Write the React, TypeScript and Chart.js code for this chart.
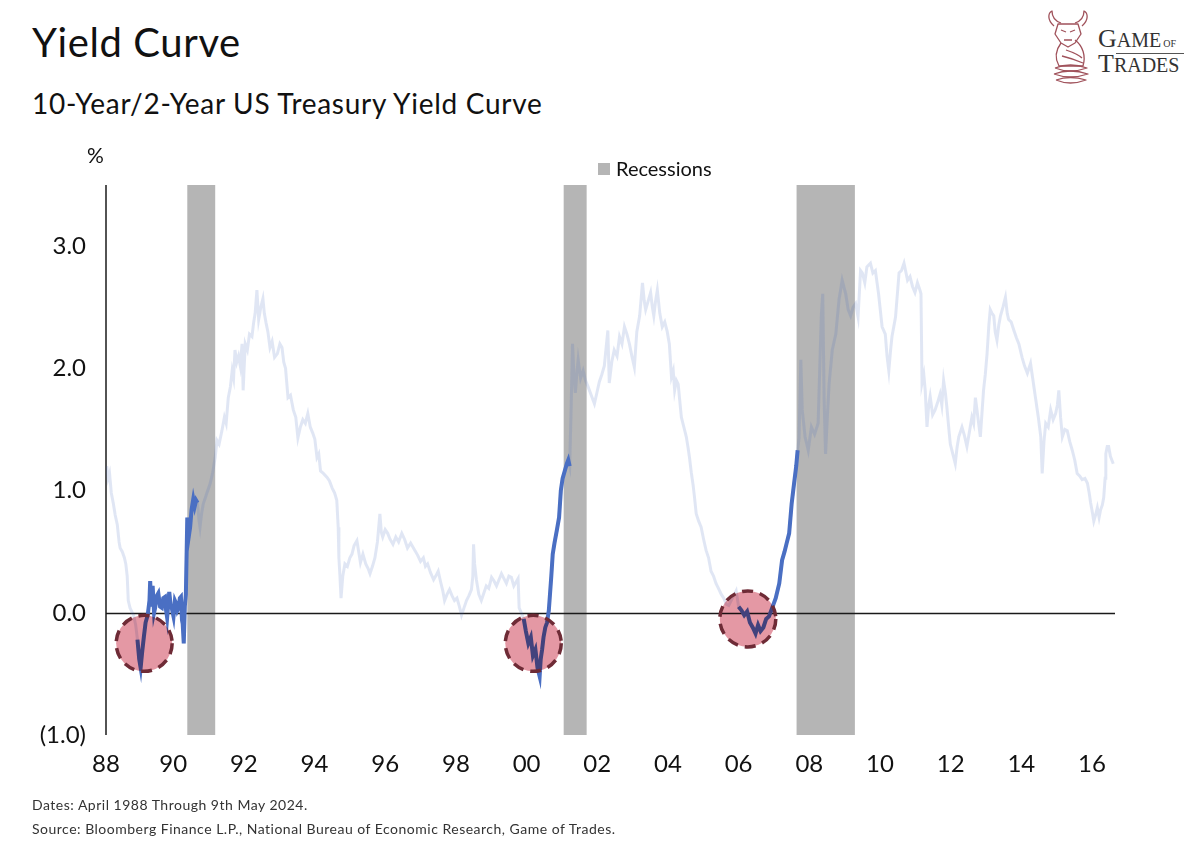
import React, { useEffect, useRef } from "react";
import { Chart, registerables } from "chart.js";

Chart.register(...registerables);

// ---- Data (10Y-2Y spread, %, decimal years) ----
const years: number[] = [
  1988.12, 1988.16, 1988.2, 1988.25, 1988.31, 1988.36, 1988.42, 1988.47, 1988.5, 1988.56, 1988.62, 1988.66, 1988.7, 1988.73, 1988.78, 1988.83,
  1988.88, 1988.94, 1988.99, 1989.04, 1989.08, 1989.12, 1989.17, 1989.22, 1989.28, 1989.33, 1989.35, 1989.38, 1989.42, 1989.46, 1989.49, 1989.54,
  1989.58, 1989.63, 1989.68, 1989.72, 1989.77, 1989.8, 1989.83, 1989.87, 1989.89, 1989.93, 1989.96, 1990.01, 1990.05, 1990.08, 1990.12, 1990.15,
  1990.19, 1990.22, 1990.25, 1990.27, 1990.3, 1990.33, 1990.36, 1990.4, 1990.44, 1990.48, 1990.52, 1990.57, 1990.61, 1990.65, 1990.69, 1990.73,
  1990.76, 1990.8, 1990.85, 1990.92, 1990.98, 1991.05, 1991.12, 1991.19, 1991.24, 1991.3, 1991.38, 1991.45, 1991.5, 1991.56, 1991.62, 1991.67,
  1991.71, 1991.75, 1991.8, 1991.85, 1991.9, 1991.95, 1991.98, 1992.04, 1992.1, 1992.16, 1992.23, 1992.28, 1992.32, 1992.37, 1992.42, 1992.48,
  1992.54, 1992.58, 1992.63, 1992.68, 1992.74, 1992.8, 1992.87, 1992.95, 1993.02, 1993.08, 1993.13, 1993.18, 1993.25, 1993.32, 1993.4, 1993.47,
  1993.53, 1993.6, 1993.67, 1993.74, 1993.81, 1993.88, 1993.95, 1994.01, 1994.07, 1994.12, 1994.17, 1994.25, 1994.35, 1994.42, 1994.5, 1994.57,
  1994.63, 1994.67, 1994.69, 1994.72, 1994.75, 1994.8, 1994.86, 1994.93, 1995.0, 1995.06, 1995.12, 1995.2, 1995.25, 1995.3, 1995.37, 1995.45,
  1995.52, 1995.57, 1995.64, 1995.71, 1995.78, 1995.85, 1995.89, 1995.93, 1996.0, 1996.07, 1996.14, 1996.22, 1996.3, 1996.38, 1996.47, 1996.55,
  1996.63, 1996.72, 1996.84, 1996.92, 1997.0, 1997.08, 1997.14, 1997.2, 1997.28, 1997.37, 1997.43, 1997.5, 1997.57, 1997.63, 1997.68, 1997.75,
  1997.82, 1997.89, 1997.96, 1998.03, 1998.1, 1998.16, 1998.23, 1998.3, 1998.37, 1998.44, 1998.48, 1998.5, 1998.53, 1998.58, 1998.65, 1998.72,
  1998.79, 1998.86, 1998.93, 1999.01, 1999.08, 1999.15, 1999.22, 1999.29, 1999.36, 1999.43, 1999.5, 1999.57, 1999.64, 1999.72, 1999.76, 1999.79,
  1999.85, 1999.92, 1999.98, 2000.05, 2000.12, 2000.18, 2000.25, 2000.31, 2000.37, 2000.4, 2000.44, 2000.48, 2000.53, 2000.58, 2000.63, 2000.7,
  2000.74, 2000.79, 2000.86, 2000.92, 2000.97, 2001.02, 2001.08, 2001.14, 2001.18, 2001.22, 2001.26, 2001.3, 2001.34, 2001.38, 2001.42, 2001.46,
  2001.53, 2001.6, 2001.67, 2001.74, 2001.83, 2001.92, 2001.99, 2002.06, 2002.13, 2002.2, 2002.3, 2002.34, 2002.41, 2002.48, 2002.56, 2002.63,
  2002.7, 2002.77, 2002.84, 2002.91, 2002.98, 2003.05, 2003.12, 2003.2, 2003.28, 2003.33, 2003.37, 2003.44, 2003.51, 2003.56, 2003.6, 2003.65,
  2003.7, 2003.77, 2003.84, 2003.91, 2003.98, 2004.04, 2004.1, 2004.15, 2004.19, 2004.24, 2004.29, 2004.34, 2004.38, 2004.45, 2004.52, 2004.57,
  2004.61, 2004.66, 2004.71, 2004.75, 2004.8, 2004.87, 2004.94, 2005.01, 2005.08, 2005.15, 2005.22, 2005.29, 2005.36, 2005.43, 2005.51, 2005.58,
  2005.65, 2005.72, 2005.79, 2005.86, 2005.93, 2006.0, 2006.08, 2006.16, 2006.24, 2006.32, 2006.4, 2006.48, 2006.55, 2006.62, 2006.7, 2006.78,
  2006.86, 2006.95, 2007.05, 2007.15, 2007.23, 2007.3, 2007.36, 2007.43, 2007.5, 2007.57, 2007.63, 2007.67, 2007.71, 2007.76, 2007.8, 2007.88,
  2007.97, 2008.06, 2008.15, 2008.25, 2008.34, 2008.38, 2008.42, 2008.46, 2008.51, 2008.56, 2008.65, 2008.75, 2008.84, 2008.93, 2009.03, 2009.1,
  2009.17, 2009.24, 2009.31, 2009.38, 2009.45, 2009.5, 2009.57, 2009.63, 2009.73, 2009.8, 2009.87, 2009.96, 2010.06, 2010.15, 2010.2, 2010.25,
  2010.3, 2010.34, 2010.44, 2010.49, 2010.54, 2010.61, 2010.68, 2010.78, 2010.85, 2010.92, 2010.99, 2011.06, 2011.12, 2011.16, 2011.19, 2011.24,
  2011.28, 2011.33, 2011.38, 2011.42, 2011.49, 2011.56, 2011.63, 2011.7, 2011.75, 2011.8, 2011.85, 2011.89, 2011.95, 2011.99, 2012.06, 2012.13,
  2012.18, 2012.23, 2012.32, 2012.39, 2012.46, 2012.53, 2012.6, 2012.65, 2012.7, 2012.77, 2012.84, 2012.93, 2012.98, 2013.03, 2013.08, 2013.12,
  2013.17, 2013.22, 2013.26, 2013.31, 2013.36, 2013.41, 2013.48, 2013.55, 2013.6, 2013.64, 2013.71, 2013.79, 2013.86, 2013.93, 2014.02, 2014.09,
  2014.17, 2014.26, 2014.33, 2014.4, 2014.48, 2014.55, 2014.59, 2014.64, 2014.69, 2014.76, 2014.83, 2014.9, 2014.97, 2015.02, 2015.06, 2015.11,
  2015.16, 2015.23, 2015.3, 2015.37, 2015.44, 2015.51, 2015.58, 2015.65, 2015.72, 2015.8, 2015.87, 2015.92, 2015.96, 2016.01, 2016.05, 2016.1,
  2016.15, 2016.2, 2016.24, 2016.29, 2016.33, 2016.37, 2016.39, 2016.43, 2016.47, 2016.52, 2016.56, 2016.6,
];

const spread: number[] = [
  1.2, 1.1, 1.14, 0.98, 0.89, 0.8, 0.72, 0.58, 0.53, 0.5, 0.45, 0.4, 0.3, 0.1, 0.04, 0.01,
  -0.02, -0.1, -0.22, -0.38, -0.45, -0.33, -0.2, -0.08, -0.02, 0.1, 0.26, 0.05, 0.22, 0.0, 0.04, 0.14,
  0.16, 0.05, 0.04, 0.12, 0.13, 0.02, -0.04, 0.1, 0.17, 0.06, 0.04, -0.03, 0.1, 0.08, 0.02, 0.04,
  0.12, 0.13, -0.06, -0.09, -0.25, 0.05, 0.15, 0.78, 0.62, 0.7, 0.84, 0.93, 0.87, 0.92, 0.9, 0.76,
  0.7, 0.8, 0.89, 0.95, 1.0, 1.06, 1.15, 1.27, 1.41, 1.38, 1.49, 1.6, 1.55, 1.76, 1.85, 1.98,
  1.92, 2.15, 2.05, 2.1, 2.02, 2.2, 1.82, 2.2, 2.15, 2.28, 2.26, 2.38, 2.45, 2.64, 2.4, 2.5,
  2.57, 2.45, 2.37, 2.3, 2.17, 2.22, 2.09, 2.12, 2.2, 2.17, 2.05, 2.0, 1.76, 1.78, 1.66, 1.6,
  1.43, 1.52, 1.58, 1.55, 1.63, 1.52, 1.47, 1.42, 1.27, 1.3, 1.16, 1.14, 1.11, 1.08, 1.02, 0.98,
  0.92, 0.7, 0.45, 0.3, 0.12, 0.3, 0.4, 0.38, 0.45, 0.48, 0.55, 0.59, 0.5, 0.41, 0.48, 0.4,
  0.36, 0.32, 0.38, 0.45, 0.58, 0.81, 0.66, 0.62, 0.68, 0.65, 0.6, 0.56, 0.62, 0.58, 0.65, 0.6,
  0.53, 0.57, 0.51, 0.47, 0.42, 0.45, 0.38, 0.4, 0.33, 0.27, 0.3, 0.34, 0.25, 0.18, 0.1, 0.15,
  0.19, 0.14, 0.1, 0.12, 0.05, -0.02, 0.04, 0.1, 0.14, 0.19, 0.3, 0.56, 0.4, 0.27, 0.15, 0.1,
  0.16, 0.22, 0.2, 0.29, 0.26, 0.22, 0.27, 0.32, 0.28, 0.24, 0.3, 0.29, 0.22, 0.26, 0.28, 0.04,
  0.0, -0.05, -0.15, -0.25, -0.2, -0.35, -0.3, -0.45, -0.52, -0.38, -0.3, -0.2, -0.12, -0.08, 0.02, 0.3,
  0.48, 0.57, 0.68, 0.78, 1.0, 1.1, 1.16, 1.22, 1.25, 1.2, 1.66, 2.2, 1.95, 1.8, 1.95, 2.07,
  1.92, 1.98, 1.9, 1.85, 1.78, 1.71, 1.8, 1.89, 1.95, 2.02, 2.31, 1.88, 2.05, 2.15, 2.1, 2.26,
  2.2, 2.34, 2.28, 2.2, 2.1, 2.01, 2.3, 2.43, 2.7, 2.55, 2.48, 2.55, 2.62, 2.5, 2.43, 2.55,
  2.64, 2.45, 2.34, 2.38, 2.3, 2.2, 1.93, 1.98, 1.82, 1.9, 1.87, 1.72, 1.6, 1.52, 1.44, 1.35,
  1.27, 1.15, 1.05, 0.95, 0.81, 0.75, 0.7, 0.6, 0.51, 0.45, 0.34, 0.3, 0.24, 0.2, 0.15, 0.12,
  0.07, 0.06, 0.1, 0.14, 0.18, 0.05, 0.02, -0.02, 0.01, -0.08, -0.12, -0.17, -0.1, -0.15, -0.12, -0.05,
  -0.03, 0.04, 0.12, 0.24, 0.43, 0.5, 0.57, 0.65, 0.89, 1.06, 1.2, 1.33, 1.43, 2.07, 1.66, 1.44,
  1.33, 1.52, 1.46, 1.55, 2.43, 2.61, 1.74, 1.3, 1.6, 1.87, 2.15, 2.28, 2.56, 2.72, 2.61, 2.48,
  2.43, 2.5, 2.53, 2.42, 2.8, 2.78, 2.7, 2.83, 2.86, 2.78, 2.8, 2.61, 2.34, 2.28, 2.1, 1.98,
  2.15, 2.26, 2.42, 2.6, 2.78, 2.8, 2.86, 2.72, 2.75, 2.67, 2.62, 2.7, 2.65, 2.61, 1.88, 1.95,
  1.82, 1.52, 1.7, 1.77, 1.62, 1.66, 1.72, 1.79, 1.7, 1.9, 1.8, 1.69, 1.5, 1.38, 1.3, 1.22,
  1.35, 1.44, 1.52, 1.45, 1.36, 1.48, 1.6, 1.55, 1.76, 1.6, 1.44, 1.82, 1.95, 2.12, 2.35, 2.48,
  2.45, 2.43, 2.3, 2.23, 2.35, 2.43, 2.5, 2.58, 2.45, 2.4, 2.38, 2.31, 2.25, 2.2, 2.09, 2.02,
  1.96, 2.04, 1.9, 1.76, 1.6, 1.44, 1.14, 1.4, 1.55, 1.52, 1.66, 1.58, 1.63, 1.7, 1.82, 1.6,
  1.44, 1.5, 1.49, 1.4, 1.33, 1.25, 1.14, 1.12, 1.09, 1.1, 1.06, 0.98, 0.9, 0.82, 0.75, 0.8,
  0.86, 0.78, 0.84, 0.88, 0.94, 1.1, 1.3, 1.36, 1.36, 1.28, 1.25, 1.22,
];

// Highlighted (pre-recession inversion) periods
const highlightStart: number[] = [1988.97, 1999.9, 2005.98];
const highlightEnd: number[] = [1990.71, 2001.23, 2007.68];

// NBER recessions (shaded)
const recessionStart: number[] = [1990.4, 2001.05, 2007.64];
const recessionEnd: number[] = [1991.19, 2001.7, 2009.29];

// Inversion markers (circles)
const circleYears: number[] = [1989.18, 2000.19, 2006.26];
const circleValues: number[] = [-0.25, -0.25, -0.05];

// Axis ticks
const xTicks: number[] = [1988.1, 1990, 1992, 1994, 1996, 1998, 2000, 2002, 2004, 2006, 2008, 2010, 2012, 2014, 2016];
const xTickLabels: string[] = ["88", "90", "92", "94", "96", "98", "00", "02", "04", "06", "08", "10", "12", "14", "16"];
const yTicks: number[] = [-1, 0, 1, 2, 3];
const yTickLabels: string[] = ["(1.0)", "0.0", "1.0", "2.0", "3.0"];

const FONT = "Lato, 'Open Sans', sans-serif";

const overlayPlugin = {
  id: "overlay",
  beforeDatasetsDraw(chart: any) {
    const { ctx, chartArea, scales } = chart;
    const x = scales.x;
    const y = scales.y;
    ctx.save();
    ctx.fillStyle = "#b5b5b5";
    recessionStart.forEach((s, i) => {
      const x0 = x.getPixelForValue(s);
      const x1 = x.getPixelForValue(recessionEnd[i]);
      ctx.fillRect(x0, chartArea.top, x1 - x0, chartArea.bottom - chartArea.top);
    });
    ctx.strokeStyle = "#1a1a1a";
    ctx.lineWidth = 1.5;
    const y0 = Math.round(y.getPixelForValue(0)) + 0.5;
    ctx.beginPath();
    ctx.moveTo(chartArea.left, y0);
    ctx.lineTo(chartArea.right, y0);
    ctx.stroke();
    ctx.beginPath();
    ctx.moveTo(chartArea.left, chartArea.top);
    ctx.lineTo(chartArea.left, chartArea.bottom);
    ctx.stroke();
    ctx.restore();
  },
  afterDatasetsDraw(chart: any) {
    const { ctx, scales } = chart;
    const x = scales.x;
    const y = scales.y;
    ctx.save();
    circleYears.forEach((cy, i) => {
      const px = x.getPixelForValue(cy);
      const py = y.getPixelForValue(circleValues[i]);
      ctx.globalCompositeOperation = "multiply";
      ctx.fillStyle = "rgb(228,152,164)";
      ctx.beginPath();
      ctx.arc(px, py, 28, 0, Math.PI * 2);
      ctx.fill();
      ctx.globalCompositeOperation = "source-over";
      ctx.strokeStyle = "#6e2b36";
      ctx.lineWidth = 3.5;
      ctx.setLineDash([11, 7]);
      ctx.beginPath();
      ctx.arc(px, py, 28, 0, Math.PI * 2);
      ctx.stroke();
      ctx.setLineDash([]);
    });
    ctx.restore();
  },
};

function inHighlight(t: number): boolean {
  return highlightStart.some((s, i) => t >= s && t <= highlightEnd[i]);
}

function YieldChart() {
  const ref = useRef<HTMLCanvasElement | null>(null);
  useEffect(() => {
    if (!ref.current) return;
    const fullData = years.map((t, i) => ({ x: t, y: spread[i] }));
    const hiData = years.map((t, i) => ({ x: t, y: inHighlight(t) ? spread[i] : null }));
    const chart = new Chart(ref.current, {
      type: "line",
      data: {
        datasets: [
          {
            data: hiData as any,
            borderColor: "#4a6fc3",
            borderWidth: 4,
            pointRadius: 0,
            spanGaps: false,
            order: 1,
          },
          {
            data: fullData,
            borderColor: "rgba(70,105,190,0.17)",
            borderWidth: 3,
            pointRadius: 0,
            order: 2,
          },
        ],
      },
      options: {
        responsive: false,
        animation: false,
        layout: { padding: { left: 26, right: 85, top: 55, bottom: 20 } },
        plugins: { legend: { display: false }, tooltip: { enabled: false } },
        scales: {
          x: {
            type: "linear",
            min: 1988.1,
            max: 2016.65,
            grid: { display: false, drawTicks: false },
            border: { display: false },
            afterBuildTicks: (s: any) => {
              s.ticks = xTicks.map((v) => ({ value: v }));
            },
            afterFit: (s: any) => {
              s.height = 45;
            },
            ticks: {
              autoSkip: false,
              maxRotation: 0,
              padding: 15,
              color: "#111",
              font: { family: FONT, size: 24 },
              callback: (_v: any, i: number) => xTickLabels[i],
            },
          },
          y: {
            min: -1,
            max: 3.5,
            grid: { display: false, drawTicks: false },
            border: { display: false },
            afterBuildTicks: (s: any) => {
              s.ticks = yTicks.map((v) => ({ value: v }));
            },
            afterFit: (s: any) => {
              s.width = 80;
            },
            ticks: {
              padding: 20,
              color: "#111",
              font: { family: FONT, size: 24 },
              callback: (_v: any, i: number) => yTickLabels[i],
            },
          },
        },
      },
      plugins: [overlayPlugin],
    });
    return () => chart.destroy();
  }, []);
  return <canvas ref={ref} width={1200} height={670} style={{ width: 1200, height: 670, display: "block" }} />;
}

function Logo() {
  return (
    <div style={{ position: "absolute", left: 1040, top: 8, width: 160, height: 80 }}>
      <svg width={56} height={78} viewBox="0 0 56 78" style={{ position: "absolute", left: 2, top: 2 }}>
        <g fill="none" stroke="#a0525b" strokeWidth={1.3} strokeLinejoin="round">
          <path d="M12 16 C5 10 6 3 10 1 C10 7 13 11 19 13" />
          <path d="M40 16 C47 10 46 3 42 1 C42 7 39 11 33 13" />
          <path d="M16 14 L36 14 L39 24 L33 33 L26 37 L19 33 L13 24 Z" />
          <path d="M19 20 L24 22 M33 20 L28 22 M22 30 L30 30" />
          <path d="M19 33 C13 41 13 49 17 56 L41 56 C44 46 41 36 33 30" />
          <path d="M24 40 C30 42 36 44 40 48 M20 46 C28 48 34 50 41 53" />
          <path d="M13 58 Q28 52 45 58 Q28 64 13 58" />
          <path d="M12 64 Q28 58 46 64 Q28 70 12 64" />
          <path d="M14 70 Q28 65 44 70 Q28 76 14 70" />
        </g>
      </svg>
      <div style={{ position: "absolute", left: 58, top: 18, fontFamily: "'Liberation Serif', serif", color: "#333", whiteSpace: "nowrap", lineHeight: 1 }}>
        <span style={{ fontSize: 26 }}>G</span>
        <span style={{ fontSize: 20 }}>AME</span>
        <span style={{ fontSize: 10, marginLeft: 2 }}>OF</span>
      </div>
      <div style={{ position: "absolute", left: 58, top: 43, fontFamily: "'Liberation Serif', serif", color: "#333", whiteSpace: "nowrap", lineHeight: 1 }}>
        <span style={{ fontSize: 26 }}>T</span>
        <span style={{ fontSize: 20 }}>RADES</span>
      </div>
      <div style={{ position: "absolute", left: 76, top: 45, width: 68, height: 1, background: "#555" }} />
    </div>
  );
}

export default function App() {
  return (
    <div
      style={{
        position: "absolute",
        left: 0,
        top: 0,
        width: 1200,
        height: 854,
        background: "#fff",
        fontFamily: FONT,
        color: "#111",
        overflow: "hidden",
      }}
    >
      <div style={{ position: "absolute", left: 32, top: 22, fontSize: 40, lineHeight: 1, letterSpacing: 0.6, whiteSpace: "nowrap" }}>Yield Curve</div>
      <div style={{ position: "absolute", left: 32, top: 89, fontSize: 28, lineHeight: 1, letterSpacing: 0.7, whiteSpace: "nowrap" }}>
        10-Year/2-Year US Treasury Yield Curve
      </div>
      <Logo />
      <div style={{ position: "absolute", left: 0, top: 130 }}>
        <YieldChart />
      </div>
      <div style={{ position: "absolute", left: 87, top: 144, fontSize: 21, lineHeight: 1 }}>%</div>
      <div style={{ position: "absolute", left: 598, top: 163, width: 12, height: 12, background: "#b5b5b5" }} />
      <div style={{ position: "absolute", left: 616, top: 158, fontSize: 20, lineHeight: 1, whiteSpace: "nowrap" }}>Recessions</div>
      <div style={{ position: "absolute", left: 32, top: 798, fontSize: 14, lineHeight: 1, letterSpacing: 0.5, color: "#333", whiteSpace: "nowrap" }}>
        Dates: April 1988 Through 9th May 2024.
      </div>
      <div style={{ position: "absolute", left: 32, top: 822, fontSize: 14, lineHeight: 1, letterSpacing: 0.5, color: "#333", whiteSpace: "nowrap" }}>
        Source: Bloomberg Finance L.P., National Bureau of Economic Research, Game of Trades.
      </div>
    </div>
  );
}
